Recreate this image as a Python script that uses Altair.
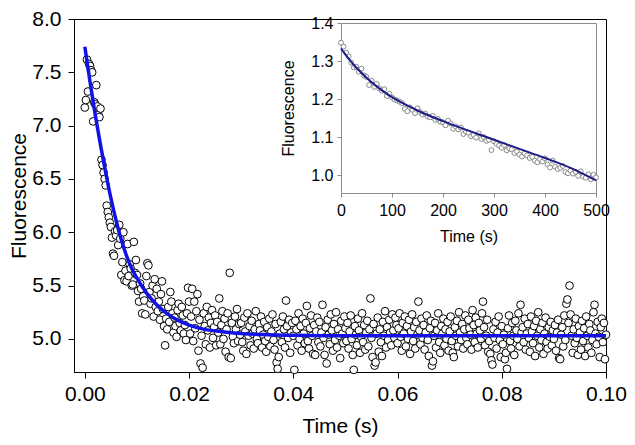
import altair as alt
import pandas as pd

# ---------------- main panel: stopped-flow trace ----------------
main_step = 0.0002
main_values = [
    7.17, 7.24, 7.62, 7.32, 7.58, 7.56, 7.52, 7.50, 7.04, 7.22, 7.20, 7.38, 7.18, 7.10, 7.08, 7.16, 6.68, 6.63, 6.56, 6.50, 6.44, 6.25, 6.19, 6.14, 6.09,
    6.05, 5.95, 5.80, 5.78, 6.01, 5.97, 6.02, 5.88, 6.07, 5.94, 5.60, 5.72, 6.00, 5.55, 5.64, 5.54, 5.89, 5.59, 5.70, 5.66, 5.50, 5.51, 5.91, 5.62, 5.74,
    5.60, 5.45, 5.35, 5.52, 5.47, 5.24, 5.40, 5.36, 5.23, 5.59, 5.71, 5.69, 5.44, 5.33, 5.38, 5.50, 5.21, 5.56, 5.30, 5.47, 5.26, 5.35, 5.18, 5.42, 5.54,
    5.28, 5.12, 4.94, 5.19, 5.09, 5.30, 5.16, 5.44, 5.35, 5.24, 5.06, 5.20, 5.12, 5.02, 5.27, 5.33, 5.15, 5.08, 5.30, 5.22, 5.05, 5.13, 4.99, 5.24, 5.48,
    5.35, 5.05, 5.21, 5.47, 4.98, 5.35, 5.10, 5.26, 5.42, 4.89, 5.18, 4.77, 5.03, 4.73, 5.24, 5.12, 4.95, 5.30, 5.08, 5.20, 4.92, 5.15, 5.27, 5.01, 5.11,
    5.22, 4.94, 5.16, 5.06, 5.38, 4.95, 5.13, 5.26, 5.00, 5.19, 4.88, 5.09, 5.24, 4.83, 5.62, 4.82, 5.15, 5.02, 4.96, 5.21, 5.09, 5.28, 4.98, 5.14, 5.04,
    5.15, 4.97, 4.89, 5.20, 5.07, 4.86, 5.24, 5.03, 5.12, 4.94, 5.17, 5.05, 4.91, 5.09, 5.26, 5.00, 4.96, 5.14, 5.08, 5.21, 4.92, 5.04, 5.16, 4.98, 4.88,
    5.11, 5.02, 5.19, 4.93, 5.07, 5.23, 4.99, 4.90, 5.14, 4.78, 4.72, 4.83, 5.05, 5.16, 4.97, 5.21, 5.09, 4.92, 5.36, 5.12, 5.01, 5.18, 4.87, 5.06, 5.15,
    5.03, 4.71, 5.17, 5.09, 4.94, 5.24, 5.00, 5.12, 4.89, 5.19, 5.05, 4.96, 5.15, 5.31, 4.98, 4.91, 5.10, 5.22, 5.03, 4.86, 5.13, 4.85, 5.07, 5.20, 4.97,
    5.16, 4.93, 5.06, 5.32, 5.01, 4.85, 5.11, 4.77, 5.18, 5.04, 4.95, 5.23, 5.08, 4.89, 5.14, 4.99, 5.25, 4.92, 5.09, 5.03, 4.82, 5.17, 5.05, 4.96, 5.21,
    5.10, 4.98, 5.15, 4.91, 5.07, 5.22, 5.00, 4.85, 4.71, 5.12, 5.04, 4.94, 5.19, 5.08, 4.87, 5.02, 5.24, 4.97, 5.13, 4.90, 5.06, 5.17, 4.93, 5.09, 5.38,
    5.01, 4.83, 5.14, 4.75, 4.78, 5.05, 5.20, 4.88, 5.09, 4.97, 4.84, 5.16, 5.03, 5.26, 4.92, 5.11, 4.99, 5.18, 5.06, 4.94, 5.23, 5.08, 5.01, 5.20, 5.13,
    4.96, 5.10, 5.24, 5.02, 4.89, 5.15, 5.05, 5.21, 4.93, 5.12, 5.00, 5.18, 4.86, 5.07, 5.23, 4.98, 5.11, 4.91, 5.16, 5.04, 5.35, 5.08, 4.95, 5.19, 5.01,
    5.13, 4.90, 5.06, 5.22, 4.99, 4.84, 5.10, 5.17, 4.75, 4.79, 5.03, 5.15, 4.92, 5.08, 5.24, 4.97, 4.87, 5.12, 5.05, 5.19, 4.94, 5.09, 5.00, 5.16, 4.89,
    5.07, 5.21, 4.98, 4.87, 4.83, 5.11, 5.03, 5.17, 4.93, 5.25, 5.06, 4.99, 5.14, 4.91, 5.09, 5.22, 5.01, 4.95, 5.18, 5.10, 5.04, 4.90, 5.27, 5.13, 4.97,
    5.20, 5.05, 4.92, 5.15, 5.08, 5.00, 5.24, 5.35, 5.11, 4.94, 5.03, 5.18, 4.88, 4.98, 4.86, 4.80, 4.76, 5.09, 5.01, 5.16, 4.91, 5.06, 5.21, 4.99, 4.83,
    5.12, 4.95, 5.04, 4.81, 4.87, 4.72, 5.10, 5.22, 4.98, 4.91, 5.15, 5.03, 4.85, 5.17, 5.08, 5.00, 5.24, 4.93, 5.32, 5.06, 5.11, 4.97, 5.19, 4.90, 5.05,
    5.14, 5.01, 4.88, 5.21, 5.07, 4.96, 5.12, 4.84, 5.17, 5.03, 5.25, 4.92, 5.09, 4.99, 5.15, 4.86, 5.05, 5.20, 4.97, 4.91, 5.11, 5.02, 5.16, 4.94, 5.08,
    5.00, 5.13, 4.89, 5.06, 5.18, 4.82, 4.81, 5.04, 5.11, 4.93, 5.22, 4.99, 5.33, 5.37, 5.15, 5.50, 5.23, 5.03, 4.87, 5.09, 4.96, 5.19, 5.01, 4.85, 5.12,
    5.06, 4.90, 5.17, 4.98, 5.10, 4.84, 5.21, 5.03, 4.92, 5.14, 5.08, 4.87, 4.99, 5.25, 5.32, 5.05, 4.95, 5.16, 5.02, 4.83, 5.11, 5.19, 4.97, 5.15, 4.81,
    5.04,
]
main_time = [round(i * main_step, 4) for i in range(len(main_values))]

fit_time = [0.0, 0.001, 0.002, 0.003, 0.004, 0.005, 0.006, 0.007, 0.008, 0.009, 0.010,
            0.012, 0.014, 0.016, 0.018, 0.020, 0.023, 0.026, 0.030, 0.035, 0.040, 0.050, 0.100]
fit_values = [7.74, 7.41, 7.10, 6.82, 6.56, 6.32, 6.11, 5.93, 5.78, 5.66, 5.57,
              5.42, 5.31, 5.23, 5.17, 5.13, 5.09, 5.07, 5.05, 5.04, 5.035, 5.03, 5.03]

# ---------------- inset: slow phase ----------------
inset_time = list(range(0, 505, 5))
inset_values = [
    1.348, 1.338, 1.322, 1.312, 1.296, 1.283, 1.285, 1.272, 1.280, 1.262,
    1.258, 1.237, 1.248, 1.232, 1.240, 1.228, 1.222, 1.226, 1.208, 1.214,
    1.204, 1.199, 1.196, 1.193, 1.189, 1.174, 1.168, 1.178, 1.172, 1.163,
    1.176, 1.166, 1.159, 1.162, 1.154, 1.152, 1.156, 1.145, 1.148, 1.140,
    1.139, 1.131, 1.143, 1.136, 1.122, 1.128, 1.120, 1.125, 1.108, 1.114,
    1.112, 1.102, 1.106, 1.099, 1.110, 1.095, 1.100, 1.090, 1.093, 1.066,
    1.089, 1.082, 1.078, 1.072, 1.079, 1.065, 1.070, 1.068, 1.058, 1.062,
    1.054, 1.049, 1.057, 1.052, 1.045, 1.048, 1.038, 1.034, 1.042, 1.036,
    1.044, 1.028, 1.020, 1.038, 1.022, 1.016, 1.019, 1.024, 1.008, 1.005,
    1.012, 1.004, 1.009, 0.998, 1.010, 0.996, 0.993, 1.002, 0.989, 1.001,
    0.994,
]
inset_fit_time = [0, 10, 20, 30, 50, 75, 100, 150, 200, 250, 300, 350, 400, 450, 500]
inset_fit_values = [1.333, 1.315, 1.298, 1.283, 1.256, 1.228, 1.205, 1.170, 1.142,
                    1.117, 1.093, 1.069, 1.045, 1.019, 0.986]

main_ticks_x = [0.0, 0.02, 0.04, 0.06, 0.08, 0.10]
main_ticks_y = [5.0, 5.5, 6.0, 6.5, 7.0, 7.5, 8.0]
inset_ticks_x = [0, 100, 200, 300, 400, 500]
inset_ticks_y = [1.0, 1.1, 1.2, 1.3, 1.4]

main_df = pd.DataFrame({"t": main_time, "f": main_values})
fit_df = pd.DataFrame({"t": fit_time, "f": fit_values})
inset_df = pd.DataFrame({"ti": inset_time, "fi": inset_values})
inset_fit_df = pd.DataFrame({"ti": inset_fit_time, "fi": inset_fit_values})

W, H = 532, 353
FONT = "Liberation Sans"

mx = alt.Scale(domain=[-0.00208, 0.1], nice=False, zero=False)
my = alt.Scale(domain=[4.69, 8.0], nice=False, zero=False)
ix = alt.Scale(domain=[0, 500], range=[267, 522], nice=False, zero=False)
iy = alt.Scale(domain=[0.953, 1.4], range=[174, 4], nice=False, zero=False)

common = dict(labelFont=FONT, titleFont=FONT, labelColor="black", titleColor="black",
              titleFontWeight="normal", grid=False, labelFlush=False, labelOverlap=False)

main_x_axis = alt.Axis(values=main_ticks_x, format=".2f", title="Time (s)", orient="bottom",
                       tickSize=6, labelFontSize=21, titleFontSize=21, labelPadding=5,
                       titlePadding=11, domainColor="black", tickColor="black", **common)
main_y_axis = alt.Axis(values=main_ticks_y, format=".1f", title="Fluorescence", orient="left",
                       tickSize=6, labelFontSize=21, titleFontSize=21, labelPadding=7,
                       titlePadding=2, domainColor="black", tickColor="black", **common)

main_pts = alt.Chart(main_df).mark_point(
    shape="circle", size=60, fill="white", fillOpacity=1, stroke="black",
    strokeWidth=1, opacity=1
).encode(
    x=alt.X("t:Q", scale=mx, axis=main_x_axis),
    y=alt.Y("f:Q", scale=my, axis=main_y_axis),
)
main_line = alt.Chart(fit_df).mark_line(
    color="#1212e6", strokeWidth=3.5, interpolate="monotone"
).encode(x="t:Q", y="f:Q")
main_layer = alt.layer(main_pts, main_line)

inset_x_axis = alt.Axis(values=inset_ticks_x, format="d", title="Time (s)", orient="bottom",
                        offset=-179, tickSize=4, labelFontSize=16, titleFontSize=16,
                        labelPadding=5, titlePadding=10, domainColor="#8c8c8c",
                        tickColor="#8c8c8c", **common)
inset_y_axis = alt.Axis(values=inset_ticks_y, format=".1f", title="Fluorescence", orient="left",
                        offset=-267, tickSize=4, labelFontSize=16, titleFontSize=16,
                        labelPadding=4, titlePadding=14, domainColor="#8c8c8c",
                        tickColor="#8c8c8c", **common)

inset_pts = alt.Chart(inset_df).mark_point(
    shape="circle", size=24, fill="white", fillOpacity=1, stroke="#8a8a8a",
    strokeWidth=1, opacity=1
).encode(
    x=alt.X("ti:Q", scale=ix, axis=inset_x_axis),
    y=alt.Y("fi:Q", scale=iy, axis=inset_y_axis),
)
inset_line = alt.Chart(inset_fit_df).mark_line(
    color="#1c1c8a", strokeWidth=2, interpolate="monotone"
).encode(x="ti:Q", y="fi:Q")
inset_layer = alt.layer(inset_pts, inset_line)

frame_x_axis = alt.Axis(orient="top", offset=-4, labels=False, ticks=False, title=None,
                        domainColor="#8c8c8c", grid=False)
frame_y_axis = alt.Axis(orient="right", offset=-10, labels=False, ticks=False, title=None,
                        domainColor="#8c8c8c", grid=False)
frame_layer = alt.Chart(inset_df).mark_point(opacity=0).encode(
    x=alt.X("ti:Q", scale=ix, axis=frame_x_axis),
    y=alt.Y("fi:Q", scale=iy, axis=frame_y_axis),
)

chart = alt.layer(main_layer, inset_layer, frame_layer).resolve_scale(
    x="independent", y="independent"
).properties(
    width=W, height=H,
    autosize=alt.AutoSizeParams(type="none"),
    padding={"left": 66, "top": 11, "right": 21, "bottom": 65},
    background="white",
).configure_view(
    stroke="black", strokeWidth=1
).configure_axis(
    labelFont=FONT, titleFont=FONT, labelColor="black", titleColor="black",
    titleFontWeight="normal", grid=False, labelFlush=False, labelOverlap=False
)

chart.save("out.html", embed_options={"renderer": "svg", "actions": False})
